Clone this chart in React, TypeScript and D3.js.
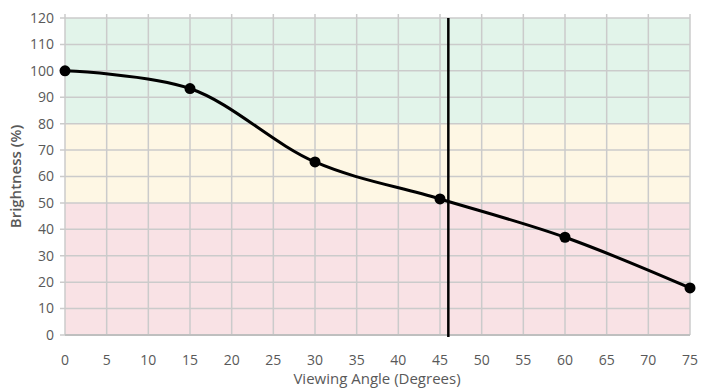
import React from "react";
import * as d3 from "d3";

const angles = [0, 15, 30, 45, 60, 75];
const brightness = [100, 93.3, 65.5, 51.5, 37, 17.8];
const xTicks = [0, 5, 10, 15, 20, 25, 30, 35, 40, 45, 50, 55, 60, 65, 70, 75];
const yTicks = [0, 10, 20, 30, 40, 50, 60, 70, 80, 90, 100, 110, 120];
const bands = [
  { from: 80, to: 120, color: "#e2f4ea" },
  { from: 50, to: 80, color: "#fef7e4" },
  { from: 0, to: 50, color: "#f9e2e5" },
];
const markerAngle = 46;

const W = 717;
const H = 390;
const M = { left: 65, right: 27, top: 18, bottom: 55 };

export default function App() {
  const x = d3.scaleLinear().domain([0, 75]).range([M.left, W - M.right]);
  const y = d3.scaleLinear().domain([0, 120]).range([H - M.bottom, M.top]);
  const pts: [number, number][] = angles.map((a, i) => [a, brightness[i]]);
  const line = d3
    .line<[number, number]>()
    .x((d) => x(d[0]))
    .y((d) => y(d[1]))
    .curve(d3.curveCatmullRom.alpha(0.5));
  const font = "'Open Sans', 'Noto Sans', sans-serif";
  return (
    <svg
      width={W}
      height={H}
      style={{ position: "absolute", left: 0, top: 0, background: "#fff" }}
    >
      {bands.map((b) => (
        <rect
          key={b.from}
          x={x(0)}
          y={y(b.to)}
          width={x(75) - x(0)}
          height={y(b.from) - y(b.to)}
          fill={b.color}
        />
      ))}
      {yTicks.map((t) => (
        <line
          key={"h" + t}
          x1={x(0) - 5}
          x2={x(75)}
          y1={y(t)}
          y2={y(t)}
          stroke="#cbcbcb"
          strokeWidth={1.5}
        />
      ))}
      {xTicks.map((t) => (
        <line
          key={"v" + t}
          x1={x(t)}
          x2={x(t)}
          y1={y(120) - 4}
          y2={y(0)}
          stroke="#cbcbcb"
          strokeWidth={1.5}
        />
      ))}
      <line x1={x(0)} x2={x(75)} y1={y(0)} y2={y(0)} stroke="#bfbfbf" strokeWidth={2} />
      {yTicks.map((t) => (
        <text
          key={"yl" + t}
          x={x(0) - 11}
          y={y(t)}
          dy="0.35em"
          textAnchor="end"
          fontFamily={font}
          fontSize={14}
          fill="#595959"
        >
          {t}
        </text>
      ))}
      {xTicks.map((t) => (
        <text
          key={"xl" + t}
          x={x(t)}
          y={y(0) + 30}
          textAnchor="middle"
          fontFamily={font}
          fontSize={14}
          fill="#595959"
        >
          {t}
        </text>
      ))}
      <text
        x={377}
        y={384}
        textAnchor="middle"
        fontFamily={font}
        fontSize={15}
        fill="#595959"
      >
        Viewing Angle (Degrees)
      </text>
      <text
        transform={`translate(21,${(y(0) + y(120)) / 2}) rotate(-90)`}
        textAnchor="middle"
        fontFamily={font}
        fontSize={15}
        fontWeight={600}
        fill="#595959"
      >
        Brightness (%)
      </text>
      <path d={line(pts) || ""} fill="none" stroke="#000" strokeWidth={3} />
      {pts.map((p) => (
        <circle key={p[0]} cx={x(p[0])} cy={y(p[1])} r={5.5} fill="#000" />
      ))}
      <line
        x1={x(markerAngle)}
        x2={x(markerAngle)}
        y1={y(120)}
        y2={y(0) + 2}
        stroke="#000"
        strokeWidth={2.5}
      />
    </svg>
  );
}
